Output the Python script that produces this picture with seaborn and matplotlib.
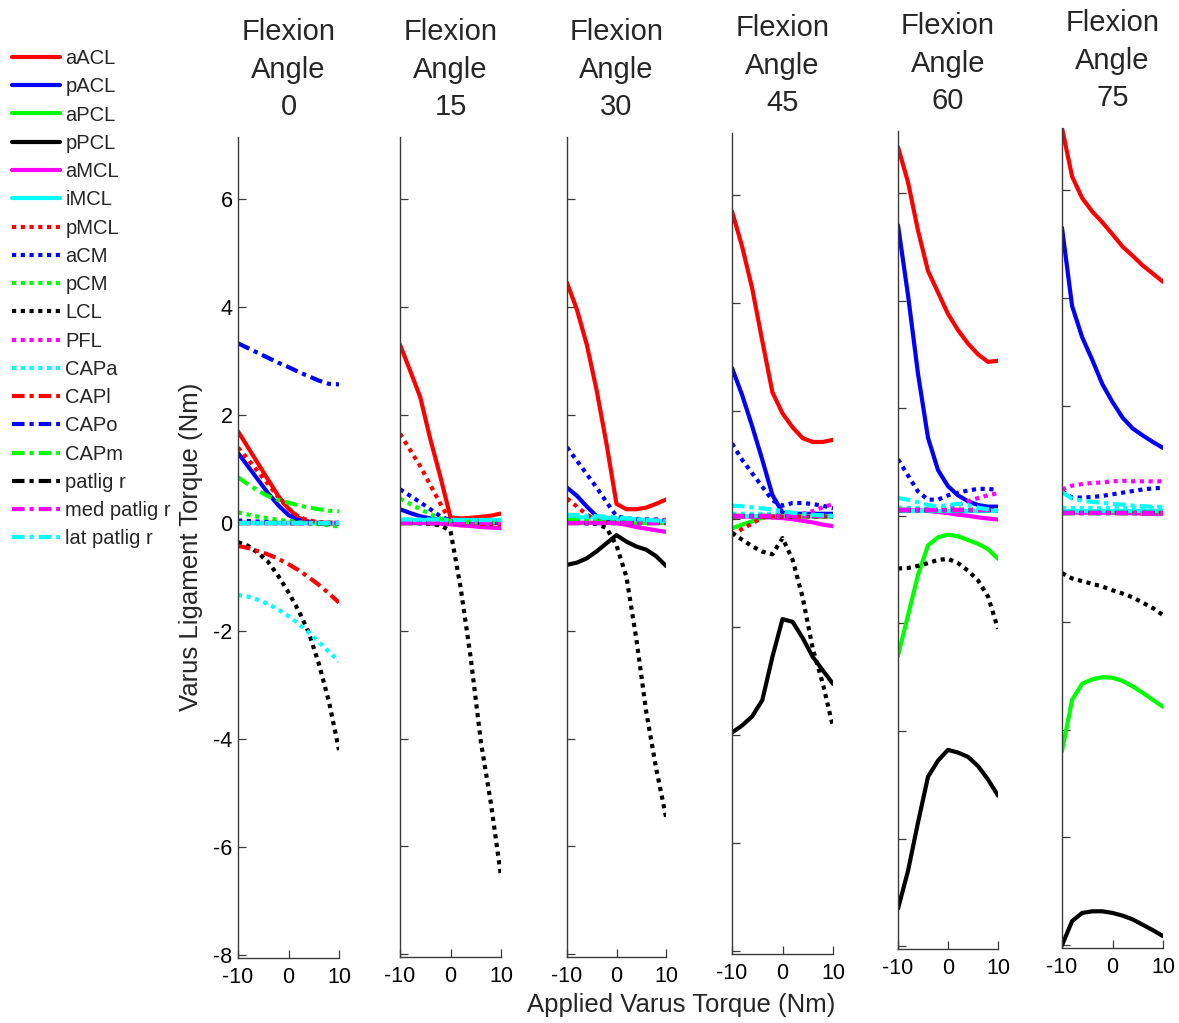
import matplotlib
matplotlib.use("Agg")
import matplotlib.pyplot as plt
import seaborn as sns
import pandas as pd
from matplotlib.lines import Line2D

# ---------------- data ----------------
X = [-10, -8, -6, -4, -2, 0, 2, 4, 6, 8, 10]
ANGLES = [0, 15, 30, 45, 60, 75]
NAMES = ['aACL', 'pACL', 'aPCL', 'pPCL', 'aMCL', 'iMCL', 'pMCL', 'aCM', 'pCM',
         'LCL', 'PFL', 'CAPa', 'CAPl', 'CAPo', 'CAPm', 'patlig r',
         'med patlig r', 'lat patlig r']
COLORS = ['#ff0000', '#0000ff', '#00ff00', '#000000', '#ff00ff', '#00ffff'] * 3
STYLES = ['solid'] * 6 + ['dot'] * 6 + ['dashdot'] * 6
ZERO = [0.0] * 11
BASE45 = [0.05] * 11
BASE60 = [0.10] * 11
BASE75 = [0.02] * 11

ang0 = {
    'aACL': [1.70, 1.40, 1.10, 0.80, 0.50, 0.27, 0.10, 0.03, 0.0, 0.0, 0.0],
    'pACL': [1.30, 1.05, 0.80, 0.55, 0.33, 0.15, 0.06, 0.02, 0.0, 0.0, 0.0],
    'aPCL': ZERO, 'pPCL': ZERO, 'aMCL': ZERO, 'iMCL': ZERO,
    'pMCL': [1.40, 1.18, 0.95, 0.72, 0.48, 0.27, 0.12, 0.05, 0.02, 0.01, 0.0],
    'aCM': [0.05, 0.04, 0.03, 0.02, 0.01, 0.0, 0.0, 0.0, 0.0, 0.0, 0.0],
    'pCM': [0.20, 0.16, 0.12, 0.09, 0.06, 0.04, 0.02, 0.0, -0.02, -0.04, -0.06],
    'LCL': [-0.35, -0.42, -0.55, -0.72, -0.98, -1.28, -1.62, -2.02, -2.60, -3.30, -4.20],
    'PFL': ZERO,
    'CAPa': [-1.33, -1.36, -1.42, -1.50, -1.60, -1.72, -1.86, -2.02, -2.20, -2.38, -2.56],
    'CAPl': [-0.42, -0.46, -0.52, -0.58, -0.66, -0.76, -0.87, -1.00, -1.14, -1.30, -1.47],
    'CAPo': [3.33, 3.24, 3.15, 3.06, 2.97, 2.89, 2.80, 2.72, 2.64, 2.58, 2.57],
    'CAPm': [0.85, 0.72, 0.60, 0.50, 0.43, 0.38, 0.33, 0.29, 0.26, 0.23, 0.22],
    'patlig r': ZERO, 'med patlig r': ZERO, 'lat patlig r': ZERO,
}

ang15 = {
    'aACL': [3.30, 2.82, 2.33, 1.55, 0.85, 0.10, 0.08, 0.09, 0.11, 0.13, 0.17],
    'pACL': [0.25, 0.18, 0.12, 0.08, 0.05, 0.03, 0.02, 0.02, 0.02, 0.02, 0.02],
    'aPCL': ZERO, 'pPCL': ZERO,
    'aMCL': [0.0, 0.0, 0.0, -0.01, -0.02, -0.03, -0.05, -0.06, -0.08, -0.09, -0.10],
    'iMCL': [0.05, 0.05, 0.05, 0.05, 0.05, 0.05, 0.05, 0.05, 0.05, 0.05, 0.05],
    'pMCL': [1.65, 1.35, 1.05, 0.70, 0.35, 0.02, 0.0, -0.01, -0.02, -0.03, -0.03],
    'aCM': [0.62, 0.50, 0.38, 0.25, 0.12, 0.04, 0.03, 0.03, 0.03, 0.03, 0.03],
    'pCM': [0.45, 0.35, 0.25, 0.16, 0.08, 0.03, 0.02, 0.01, 0.0, 0.0, 0.0],
    'LCL': [0.0, 0.0, -0.01, -0.02, -0.05, -0.15, -1.20, -2.50, -4.05, -5.20, -6.55],
    'PFL': ZERO,
    'CAPa': [0.05, 0.05, 0.05, 0.05, 0.05, 0.05, 0.05, 0.05, 0.05, 0.05, 0.05],
    'CAPl': ZERO, 'CAPo': ZERO, 'CAPm': ZERO, 'patlig r': ZERO,
    'med patlig r': ZERO,
    'lat patlig r': [0.06, 0.06, 0.06, 0.06, 0.06, 0.05, 0.05, 0.05, 0.05, 0.05, 0.05],
}

ang30 = {
    'aACL': [4.45, 3.95, 3.30, 2.45, 1.45, 0.35, 0.25, 0.25, 0.28, 0.35, 0.43],
    'pACL': [0.65, 0.50, 0.30, 0.12, 0.03, 0.0, 0.0, 0.0, 0.0, 0.0, 0.0],
    'aPCL': ZERO,
    'pPCL': [-0.78, -0.74, -0.66, -0.53, -0.38, -0.23, -0.35, -0.44, -0.50, -0.62, -0.80],
    'aMCL': [0.0, 0.0, 0.0, 0.0, 0.0, -0.01, -0.04, -0.08, -0.11, -0.14, -0.17],
    'iMCL': [0.10, 0.10, 0.10, 0.10, 0.09, 0.08, 0.07, 0.06, 0.05, 0.04, 0.03],
    'pMCL': [0.45, 0.30, 0.15, 0.05, 0.0, 0.0, 0.0, 0.0, 0.0, 0.0, 0.0],
    'aCM': [1.40, 1.15, 0.90, 0.65, 0.38, 0.12, 0.08, 0.07, 0.06, 0.06, 0.05],
    'pCM': [0.05, 0.05, 0.05, 0.05, 0.05, 0.05, 0.05, 0.05, 0.05, 0.05, 0.05],
    'LCL': [0.0, 0.0, -0.01, -0.02, -0.10, -0.42, -1.00, -2.15, -3.50, -4.55, -5.45],
    'PFL': [0.0, 0.0, 0.0, 0.01, 0.01, 0.02, 0.02, 0.03, 0.04, 0.05, 0.05],
    'CAPa': [0.10, 0.10, 0.09, 0.08, 0.07, 0.06, 0.05, 0.04, 0.03, 0.02, 0.01],
    'CAPl': ZERO, 'CAPo': ZERO,
    'CAPm': [0.05, 0.04, 0.03, 0.02, 0.01, 0.0, 0.0, 0.0, 0.0, 0.0, 0.0],
    'patlig r': ZERO, 'med patlig r': ZERO,
    'lat patlig r': [0.15, 0.14, 0.13, 0.12, 0.11, 0.10, 0.08, 0.07, 0.05, 0.04, 0.03],
}

ang45 = {
    'aACL': [5.70, 5.05, 4.27, 3.30, 2.35, 1.96, 1.70, 1.50, 1.43, 1.43, 1.47],
    'pACL': [2.80, 2.30, 1.72, 1.10, 0.45, 0.12, 0.10, 0.10, 0.10, 0.10, 0.10],
    'aPCL': [-0.17, -0.10, -0.04, 0.03, 0.05, 0.05, 0.05, 0.05, 0.05, 0.05, 0.05],
    'pPCL': [-3.95, -3.82, -3.65, -3.35, -2.55, -1.85, -1.90, -2.20, -2.55, -2.80, -3.05],
    'aMCL': [0.05, 0.05, 0.05, 0.04, 0.03, 0.02, 0.0, -0.03, -0.06, -0.10, -0.13],
    'iMCL': [0.05, 0.05, 0.05, 0.05, 0.05, 0.05, 0.05, 0.05, 0.05, 0.05, 0.05],
    'pMCL': [-0.30, -0.18, -0.08, 0.03, 0.05, 0.05, 0.05, 0.05, 0.05, 0.05, 0.05],
    'aCM': [1.40, 1.10, 0.85, 0.60, 0.35, 0.25, 0.30, 0.30, 0.28, 0.25, 0.20],
    'pCM': BASE45,
    'LCL': [-0.25, -0.38, -0.50, -0.60, -0.65, -0.35, -0.75, -1.45, -2.40, -3.05, -3.85],
    'PFL': [0.05, 0.05, 0.05, 0.06, 0.07, 0.08, 0.09, 0.10, 0.15, 0.22, 0.28],
    'CAPa': [0.10, 0.10, 0.10, 0.10, 0.10, 0.10, 0.09, 0.08, 0.07, 0.06, 0.05],
    'CAPl': BASE45, 'CAPo': BASE45, 'CAPm': BASE45,
    'patlig r': BASE45,
    'med patlig r': BASE45,
    'lat patlig r': [0.25, 0.24, 0.22, 0.20, 0.18, 0.15, 0.12, 0.10, 0.08, 0.07, 0.06],
}

ang60 = {
    'aACL': [6.85, 6.20, 5.30, 4.55, 4.15, 3.75, 3.45, 3.20, 3.00, 2.86, 2.88],
    'pACL': [5.40, 4.10, 2.64, 1.45, 0.85, 0.55, 0.38, 0.27, 0.20, 0.17, 0.17],
    'aPCL': [-2.60, -1.85, -1.10, -0.55, -0.40, -0.35, -0.38, -0.45, -0.52, -0.62, -0.80],
    'pPCL': [-7.30, -6.60, -5.70, -4.85, -4.55, -4.35, -4.40, -4.48, -4.65, -4.90, -5.20],
    'aMCL': [0.10, 0.10, 0.10, 0.09, 0.07, 0.05, 0.02, 0.0, -0.03, -0.05, -0.07],
    'iMCL': [0.08, 0.08, 0.08, 0.08, 0.08, 0.08, 0.08, 0.08, 0.08, 0.08, 0.08],
    'pMCL': BASE60,
    'aCM': [1.05, 0.75, 0.45, 0.30, 0.30, 0.38, 0.43, 0.47, 0.50, 0.50, 0.48],
    'pCM': BASE60,
    'LCL': [-0.98, -0.97, -0.93, -0.88, -0.82, -0.80, -0.88, -1.02, -1.20, -1.50, -2.10],
    'PFL': [0.10, 0.10, 0.10, 0.10, 0.12, 0.15, 0.20, 0.27, 0.33, 0.38, 0.42],
    'CAPa': [0.15, 0.15, 0.14, 0.13, 0.12, 0.12, 0.11, 0.10, 0.10, 0.10, 0.10],
    'CAPl': BASE60, 'CAPo': BASE60, 'CAPm': BASE60,
    'patlig r': BASE60,
    'med patlig r': BASE60,
    'lat patlig r': [0.33, 0.30, 0.25, 0.20, 0.17, 0.20, 0.22, 0.20, 0.15, 0.12, 0.10],
}

ang75 = {
    'aACL': [7.15, 6.25, 5.85, 5.60, 5.40, 5.18, 4.95, 4.78, 4.60, 4.45, 4.30],
    'pACL': [5.30, 3.85, 3.27, 2.85, 2.40, 2.07, 1.78, 1.58, 1.45, 1.33, 1.22],
    'aPCL': [-4.40, -3.45, -3.15, -3.07, -3.03, -3.04, -3.10, -3.20, -3.32, -3.45, -3.58],
    'pPCL': [-8.00, -7.55, -7.40, -7.37, -7.37, -7.40, -7.45, -7.52, -7.62, -7.72, -7.83],
    'aMCL': [0.02, 0.02, 0.02, 0.02, 0.02, 0.02, 0.01, 0.01, 0.0, 0.0, 0.0],
    'iMCL': [0.05, 0.05, 0.05, 0.05, 0.05, 0.05, 0.05, 0.05, 0.05, 0.05, 0.05],
    'pMCL': BASE75,
    'aCM': [0.42, 0.30, 0.30, 0.31, 0.33, 0.36, 0.39, 0.42, 0.45, 0.47, 0.48],
    'pCM': BASE75,
    'LCL': [-1.10, -1.20, -1.25, -1.30, -1.35, -1.42, -1.48, -1.55, -1.65, -1.75, -1.88],
    'PFL': [0.45, 0.52, 0.55, 0.57, 0.58, 0.60, 0.61, 0.60, 0.60, 0.60, 0.60],
    'CAPa': [0.10, 0.10, 0.10, 0.10, 0.10, 0.10, 0.10, 0.10, 0.10, 0.10, 0.10],
    'CAPl': BASE75, 'CAPo': BASE75, 'CAPm': BASE75,
    'patlig r': BASE75,
    'med patlig r': BASE75,
    'lat patlig r': [0.40, 0.28, 0.24, 0.22, 0.20, 0.18, 0.17, 0.15, 0.14, 0.13, 0.13],
}

PANELS = [ang0, ang15, ang30, ang45, ang60, ang75]
XTICKS = [-10, 0, 10]
YTICKS = [-8, -6, -4, -2, 0, 2, 4, 6]

# ---------------- style ----------------
sns.set_style("ticks")
plt.rcParams['font.family'] = ['Liberation Sans', 'DejaVu Sans']
plt.rcParams['axes.unicode_minus'] = False

LW = 3.0
DASHES = {'solid': '', 'dot': (1.0, 1.1), 'dashdot': (3.0, 1.2, 1.0, 1.2)}
palette = dict(zip(NAMES, COLORS))
dash_map = {n: DASHES[s] for n, s in zip(NAMES, STYLES)}

W, H = 1179, 1023
fig = plt.figure(figsize=(W / 100, H / 100), dpi=100)

lefts = [238, 400, 567, 732, 898, 1062]
rights = [339, 501, 666, 833, 998, 1163]
tops = [137, 137, 137, 133, 131, 128]
bottoms = [958, 957, 957, 954, 949, 948]

for i, (ang, d) in enumerate(zip(ANGLES, PANELS)):
    rect = [lefts[i] / W, 1 - bottoms[i] / H,
            (rights[i] - lefts[i]) / W, (bottoms[i] - tops[i]) / H]
    ax = fig.add_axes(rect)
    rows = []
    for n in NAMES:
        for xv, yv in zip(X, d[n]):
            rows.append({'x': xv, 'y': yv, 'lig': n})
    df = pd.DataFrame(rows)
    sns.lineplot(data=df, x='x', y='y', hue='lig', style='lig',
                 hue_order=NAMES, style_order=NAMES, palette=palette,
                 dashes=dash_map, linewidth=LW, legend=False, ax=ax,
                 estimator=None, sort=False)
    ax.set_xlim(-10, 10)
    ax.set_ylim(-8.05, 7.15)
    ax.set_xticks(XTICKS)
    ax.set_xticklabels([str(t) for t in XTICKS])
    ax.set_yticks(YTICKS)
    if i == 0:
        ax.set_yticklabels([str(t) for t in YTICKS])
    else:
        ax.set_yticklabels([])
    ax.set_xlabel('')
    ax.set_ylabel('')
    for s in ['top', 'right']:
        ax.spines[s].set_visible(False)
    for s in ['left', 'bottom']:
        ax.spines[s].set_color('#3a3a3a')
        ax.spines[s].set_linewidth(1.0)
    ax.tick_params(direction='in', length=6, width=0.9, color='#3a3a3a',
                   labelsize=15.5, pad=4, labelcolor='black')
    ax.tick_params(axis='x', pad=6.5)
    ax.patch.set_alpha(0)
    ax.set_title(f"Flexion\nAngle\n{ang}", fontsize=21, linespacing=1.42,
                 pad=16)

fig.text(191 / W, 1 - 547 / H, 'Varus Ligament Torque (Nm)', rotation=90,
         ha='center', va='center', fontsize=18.5)
fig.text(681 / W, 1 - 1005 / H, 'Applied Varus Torque (Nm)',
         ha='center', va='center', fontsize=18.5)

handles = [Line2D([0], [0], color=c, lw=LW,
                  dashes=(DASHES[s] if s != 'solid' else (None, None)),
                  dash_capstyle='butt')
           for c, s in zip(COLORS, STYLES)]
for h, s in zip(handles, STYLES):
    if s == 'solid':
        h.set_linestyle('-')
fig.legend(handles, NAMES, loc='upper left',
           bbox_to_anchor=(12 / W, 1 - 49 / H), frameon=False,
           fontsize=14.5, handlelength=2.4, handletextpad=0.25,
           labelspacing=0.46, borderpad=0, borderaxespad=0)

fig.savefig('out.png', dpi=100)
